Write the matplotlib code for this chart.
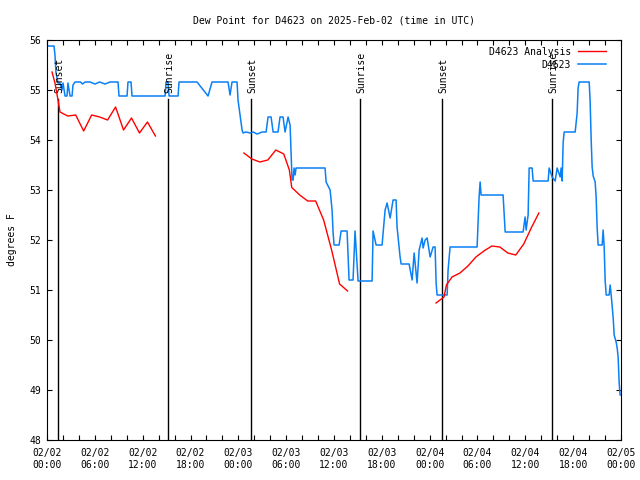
import matplotlib
matplotlib.use("Agg")
import matplotlib.pyplot as plt
from matplotlib.ticker import MultipleLocator, FuncFormatter
import numpy as np

# hours after 2025-02-02 00:00 UTC
obs_hours = [
    0.13, 0.88, 1.00, 1.13, 1.38, 1.63, 1.88, 2.01, 2.26, 2.51, 2.63, 2.89,
    3.14, 3.26, 3.51, 4.20, 4.45, 4.77, 5.40, 6.02, 6.60, 7.28, 7.90, 8.53,
    8.91, 9.03, 10.04, 10.16, 10.54, 10.66, 14.81, 14.93, 15.18, 15.31,
    16.44, 16.56, 18.82, 20.20, 20.70, 22.71, 22.96, 23.21, 23.84, 23.96,
    24.22, 24.47, 24.59, 24.97, 25.47, 25.85, 26.35, 26.98, 27.48, 27.73,
    28.11, 28.36, 28.98, 29.23, 29.61, 29.86, 30.24, 30.49, 30.74, 30.87,
    30.99, 31.12, 31.24, 34.88, 35.01, 35.51, 35.76, 35.88, 36.01, 36.64,
    36.89, 37.64, 37.89, 38.39, 38.64, 39.02, 40.78, 40.90, 41.28, 42.03,
    42.41, 42.66, 43.04, 43.41, 43.79, 43.91, 44.29, 44.42, 45.42, 45.80,
    46.05, 46.42, 46.68, 47.05, 47.18, 47.43, 47.68, 48.06, 48.43, 48.68,
    48.81, 48.93, 50.19, 50.31, 50.56, 53.95, 54.20, 54.33, 54.45, 57.21,
    57.47, 59.72, 59.97, 60.10, 60.35, 60.48, 60.85, 60.98, 62.86, 62.99,
    63.36, 63.74, 63.99, 64.37, 64.49, 64.62, 64.74, 64.87, 66.25, 66.50,
    66.62, 66.75, 68.01, 68.13, 68.26, 68.38, 68.51, 68.76, 68.88, 69.01,
    69.13, 69.64, 69.76, 69.89, 70.01, 70.14, 70.51, 70.64, 70.77, 71.02,
    71.14, 71.39, 71.52, 71.64, 71.77, 71.89,
]
obs_dewpt = [
    55.88, 55.88, 55.70, 55.34, 55.14, 55.14, 55.00, 55.14, 54.88, 54.88, 55.14, 54.88,
    54.88, 55.10, 55.16, 55.16, 55.12, 55.16, 55.16, 55.12, 55.16, 55.12, 55.16, 55.16,
    55.16, 54.88, 54.88, 55.16, 55.16, 54.88, 54.88, 55.16, 55.16, 54.88,
    54.88, 55.16, 55.16, 54.88, 55.16, 55.16, 54.90, 55.16, 55.16, 54.80,
    54.50, 54.20, 54.14, 54.16, 54.14, 54.16, 54.12, 54.16, 54.16, 54.46,
    54.46, 54.16, 54.16, 54.46, 54.46, 54.16, 54.46, 54.30, 53.20, 53.20,
    53.44, 53.30, 53.44, 53.44, 53.16, 53.00, 52.60, 52.16, 51.90, 51.90,
    52.18, 52.18, 51.20, 51.20, 52.18, 51.18, 51.18, 52.18, 51.90, 51.90,
    52.60, 52.74, 52.44, 52.80, 52.80, 52.26, 51.66, 51.52, 51.52, 51.20,
    51.74, 51.14, 51.80, 52.04, 51.84, 52.00, 52.04, 51.66, 51.86, 51.86,
    51.14, 50.90, 50.90, 51.40, 51.86, 51.86, 52.86, 53.16, 52.90, 52.90,
    52.16, 52.16, 52.46, 52.20, 52.50, 53.44, 53.44, 53.18, 53.18, 53.44,
    53.26, 53.18, 53.44, 53.26, 53.44, 53.18, 53.94, 54.16, 54.16, 54.54,
    55.04, 55.16, 55.16, 54.76, 54.00, 53.46, 53.28, 53.16, 52.86, 52.24,
    51.90, 51.90, 52.20, 51.86, 51.20, 50.90, 50.90, 51.10, 50.90, 50.44,
    50.10, 49.96, 49.84, 49.66, 49.14, 48.90,
]

# analysis runs, NaN separates the three runs
ana_hours = [
    0.63, 1.00, 1.38, 1.63, 2.6, 3.6, 4.6, 5.6, 6.6, 7.6, 8.6, 9.6, 10.6, 11.6, 12.6, 13.6,
    19.0,
    24.7, 25.7, 26.7, 27.7, 28.7, 29.7, 30.4, 30.7, 31.7, 32.7, 33.7, 34.7, 35.7, 36.7, 37.7,
    43.0,
    48.8, 49.8, 50.1, 50.8, 51.8, 52.8, 53.8, 54.8, 55.8, 56.8, 57.8, 58.8, 59.8, 60.8, 61.7,
]
ana_dewpt = [
    55.36, 55.14, 54.80, 54.56, 54.48, 54.50, 54.18, 54.50, 54.46, 54.40, 54.66, 54.20,
    54.44, 54.14, 54.36, 54.08,
    np.nan,
    53.74, 53.62, 53.56, 53.60, 53.80, 53.72, 53.40, 53.05, 52.90, 52.78, 52.78, 52.40,
    51.80, 51.12, 50.98,
    np.nan,
    50.74, 50.86, 51.10, 51.26, 51.34, 51.48, 51.66, 51.78, 51.88, 51.86, 51.74, 51.70,
    51.92, 52.26, 52.54,
]

sun_hours = [1.38, 15.18, 25.6, 39.27, 49.56, 63.36]
sun_names = ["Sunset", "Sunrise", "Sunset", "Sunrise", "Sunset", "Sunrise"]

MONO = "DejaVu Sans Mono"
FS = 7

fig = plt.figure(figsize=(6.4, 4.8), dpi=100)
ax = fig.add_axes([47 / 640, 40 / 480, 574 / 640, 400 / 480])

for h, name in zip(sun_hours, sun_names):
    ax.plot([h, h], [48, 54.82], color="black", lw=1.0, zorder=1)
    ax.text(h + 0.15, 54.94, name, rotation=90, ha="center", va="bottom",
            family=MONO, fontsize=FS)

ax.plot(ana_hours, ana_dewpt, color="#ff0000", lw=1.0, label="D4623 Analysis", zorder=3)
ax.plot(obs_hours, obs_dewpt, color="#0a80f5", lw=1.1, label="D4623", zorder=2)

ax.set_xlim(0, 72)
ax.set_ylim(48, 56)
ax.xaxis.set_major_locator(MultipleLocator(6))
ax.xaxis.set_minor_locator(MultipleLocator(2))
ax.yaxis.set_major_locator(MultipleLocator(1))


def hour_label(h, pos):
    day = 2 + int(h // 24)
    return "%02d/%02d\n%02d:00" % (2, day, int(h % 24))


ax.xaxis.set_major_formatter(FuncFormatter(hour_label))
ax.tick_params(which="both", direction="in", top=True, right=True,
               length=3.6, width=0.8, labelsize=FS, pad=6)
ax.tick_params(axis="y", pad=4)
for lab in ax.get_xticklabels() + ax.get_yticklabels():
    lab.set_family(MONO)
for sp in ax.spines.values():
    sp.set_linewidth(0.8)

ax.set_ylabel("degrees F", family=MONO, fontsize=FS, labelpad=9)
ax.set_title("Dew Point for D4623 on 2025-Feb-02 (time in UTC)",
             family=MONO, fontsize=FS, pad=12)

leg = ax.legend(loc="upper right", frameon=False, prop={"family": MONO, "size": FS},
                markerfirst=False, handlelength=2.9, handletextpad=0.7,
                labelspacing=0.3, borderaxespad=0.0,
                bbox_to_anchor=(1 - 11 / 574, 1 - 3 / 400))
for t in leg.get_texts():
    t.set_ha("right")

fig.savefig("out.png", dpi=100)
